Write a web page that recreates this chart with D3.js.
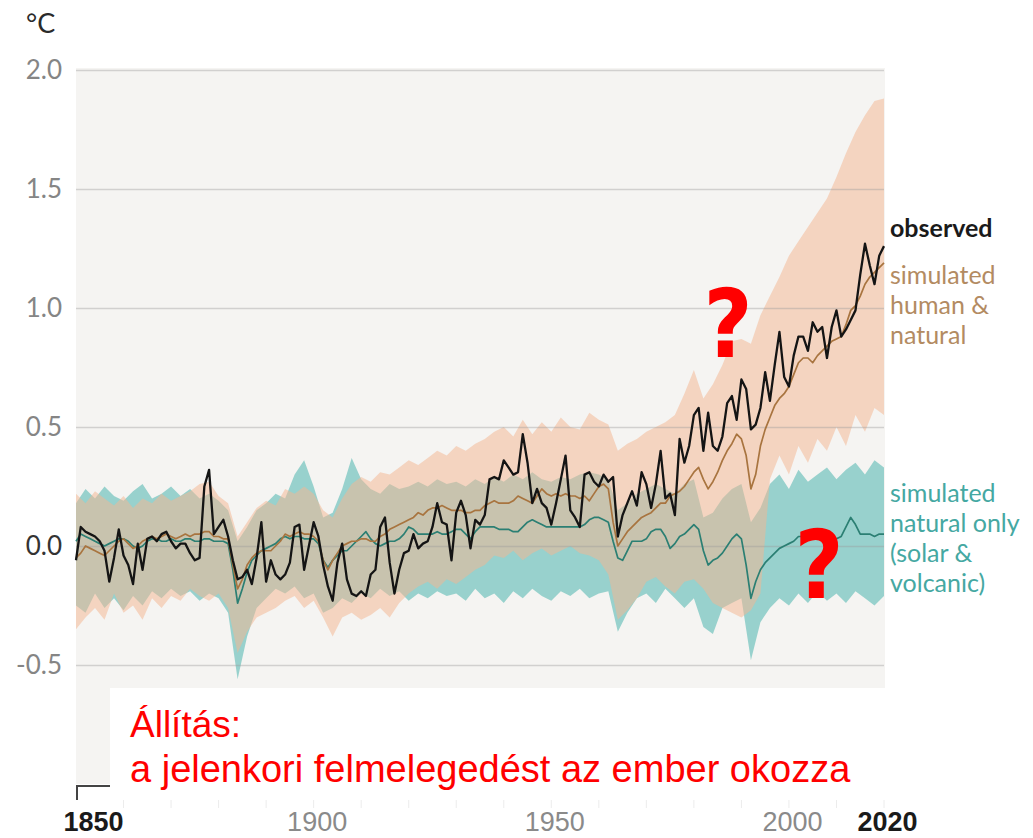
<!DOCTYPE html>
<html>
<head>
<meta charset="utf-8">
<script src="https://cdn.jsdelivr.net/npm/d3@7"></script>
<style>
body { margin: 0; background: #fff; }
svg { display: block; }
</style>
</head>
<body>
<svg></svg>
<script>
// yearly series 1850..2020
let years = d3.range(1850, 2021)

let observed = [
  -0.06, 0.08, 0.06, 0.05, 0.04, 0.02, -0.02, -0.15, -0.05, 0.07,
  -0.04, -0.08, -0.16, 0.01, -0.10, 0.03, 0.04, 0.02, 0.05, 0.06,
  0.02, -0.01, 0.01, 0.01, -0.03, -0.06, -0.05, 0.25, 0.32, 0.05,
  0.08, 0.11, 0.04, -0.06, -0.14, -0.13, -0.10, -0.16, -0.05, 0.10,
  -0.15, -0.06, -0.12, -0.14, -0.12, -0.07, 0.08, 0.09, -0.10, 0.00,
  0.10, 0.04, -0.08, -0.17, -0.23, -0.07, 0.01, -0.14, -0.20, -0.21,
  -0.19, -0.21, -0.12, -0.10, 0.08, 0.12, -0.07, -0.20, -0.10, -0.03,
  -0.02, 0.05, -0.01, 0.01, 0.02, 0.08, 0.18, 0.10, 0.09, -0.06,
  0.14, 0.19, 0.13, -0.01, 0.11, 0.09, 0.13, 0.28, 0.29, 0.28,
  0.36, 0.33, 0.30, 0.31, 0.47, 0.35, 0.18, 0.24, 0.18, 0.16,
  0.09, 0.18, 0.28, 0.38, 0.15, 0.12, 0.08, 0.30, 0.31, 0.27,
  0.25, 0.30, 0.27, 0.29, 0.04, 0.13, 0.18, 0.23, 0.17, 0.31,
  0.26, 0.16, 0.26, 0.40, 0.20, 0.22, 0.13, 0.45, 0.35, 0.42,
  0.55, 0.58, 0.40, 0.56, 0.42, 0.40, 0.46, 0.60, 0.63, 0.53,
  0.70, 0.66, 0.49, 0.51, 0.58, 0.73, 0.61, 0.76, 0.90, 0.71,
  0.67, 0.80, 0.88, 0.88, 0.82, 0.94, 0.90, 0.92, 0.79, 0.92,
  0.99, 0.88, 0.91, 0.95, 0.99, 1.14, 1.27, 1.18, 1.10, 1.22,
  1.26
]

let simHuman = [
  -0.05, -0.03, 0.00, -0.01, -0.02, -0.03, -0.04, -0.02, 0.00, 0.02,
  0.03, 0.01, -0.01, 0.00, 0.02, 0.03, 0.04, 0.03, 0.04, 0.05,
  0.04, 0.03, 0.04, 0.05, 0.04, 0.05, 0.05, 0.06, 0.06, 0.04,
  0.04, 0.03, 0.03, -0.08, -0.18, -0.14, -0.08, -0.05, -0.03, -0.02,
  -0.02, -0.02, 0.00, 0.02, 0.05, 0.04, 0.05, 0.06, 0.05, 0.05,
  0.04, 0.02, -0.06, -0.10, -0.06, -0.03, 0.00, 0.01, 0.02, 0.02,
  0.03, 0.03, 0.02, 0.02, 0.04, 0.05, 0.07, 0.08, 0.09, 0.10,
  0.11, 0.12, 0.14, 0.13, 0.15, 0.16, 0.16, 0.17, 0.16, 0.15,
  0.15, 0.15, 0.14, 0.14, 0.15, 0.15, 0.17, 0.18, 0.19, 0.18,
  0.18, 0.18, 0.19, 0.21, 0.20, 0.19, 0.18, 0.21, 0.24, 0.22,
  0.21, 0.22, 0.21, 0.22, 0.21, 0.21, 0.20, 0.21, 0.19, 0.22,
  0.25, 0.26, 0.24, 0.10, 0.00, 0.03, 0.06, 0.08, 0.10, 0.12,
  0.13, 0.14, 0.16, 0.18, 0.18, 0.21, 0.22, 0.23, 0.25, 0.28,
  0.31, 0.33, 0.28, 0.24, 0.27, 0.31, 0.36, 0.40, 0.43, 0.47,
  0.45, 0.38, 0.24, 0.30, 0.42, 0.49, 0.54, 0.59, 0.62, 0.64,
  0.67, 0.72, 0.77, 0.79, 0.79, 0.77, 0.80, 0.82, 0.84, 0.86,
  0.87, 0.88, 0.93, 0.99, 1.01, 1.05, 1.10, 1.13, 1.15, 1.17,
  1.19
]

let simNatural = [
  0.02, 0.05, 0.04, 0.03, 0.02, 0.01, 0.00, 0.01, 0.02, 0.03,
  0.03, 0.02, 0.00, -0.01, 0.00, 0.02, 0.03, 0.03, 0.02, 0.02,
  0.03, 0.02, 0.02, 0.03, 0.03, 0.02, 0.02, 0.03, 0.03, 0.02,
  0.02, 0.02, 0.01, -0.10, -0.24, -0.18, -0.11, -0.06, -0.04, -0.02,
  -0.01, 0.00, 0.01, 0.03, 0.04, 0.03, 0.04, 0.04, 0.03, 0.03,
  0.03, 0.01, -0.06, -0.09, -0.06, -0.04, -0.02, -0.02, 0.00, 0.02,
  0.04, 0.06, 0.03, 0.01, 0.00, 0.01, 0.02, 0.02, 0.03, 0.05,
  0.08, 0.07, 0.05, 0.05, 0.05, 0.05, 0.06, 0.05, 0.05, 0.06,
  0.07, 0.07, 0.05, 0.03, 0.06, 0.08, 0.08, 0.08, 0.08, 0.07,
  0.07, 0.07, 0.06, 0.06, 0.08, 0.10, 0.11, 0.10, 0.09, 0.08,
  0.08, 0.08, 0.08, 0.08, 0.08, 0.08, 0.08, 0.09, 0.11, 0.12,
  0.12, 0.11, 0.10, 0.02, -0.05, -0.06, -0.02, 0.02, 0.02, 0.02,
  0.03, 0.06, 0.07, 0.07, 0.04, -0.01, 0.01, 0.04, 0.05, 0.07,
  0.09, 0.07, -0.02, -0.08, -0.06, -0.05, -0.03, 0.00, 0.03, 0.05,
  0.03, -0.08, -0.22, -0.15, -0.10, -0.07, -0.05, -0.03, -0.01, 0.00,
  0.01, 0.02, 0.04, 0.04, 0.04, 0.03, 0.04, 0.03, 0.03, 0.03,
  0.03, 0.04, 0.08, 0.12, 0.09, 0.05, 0.05, 0.05, 0.04, 0.05,
  0.05
]

// model ranges, every second year 1850..2020
let bandYears = d3.range(1850, 2021, 2)

let humanHigh = [
  0.22, 0.18, 0.23, 0.20, 0.17, 0.21, 0.16, 0.20, 0.18, 0.22,
  0.19, 0.21, 0.23, 0.26, 0.27, 0.21, 0.18, 0.04, 0.10, 0.16,
  0.19, 0.17, 0.24, 0.22, 0.25, 0.22, 0.15, 0.12, 0.20, 0.26,
  0.29, 0.27, 0.31, 0.30, 0.33, 0.36, 0.34, 0.37, 0.40, 0.38,
  0.42, 0.40, 0.43, 0.45, 0.48, 0.50, 0.46, 0.53, 0.47, 0.52,
  0.48, 0.54, 0.50, 0.49, 0.56, 0.53, 0.51, 0.40, 0.43, 0.45,
  0.48, 0.50, 0.52, 0.55, 0.64, 0.74, 0.62, 0.68, 0.76, 0.86,
  0.87, 0.85, 0.97, 1.05, 1.13, 1.22, 1.28, 1.34, 1.40, 1.46,
  1.55, 1.65, 1.74, 1.81, 1.87, 1.88
]
let humanLow = [
  -0.35, -0.30, -0.26, -0.31, -0.20, -0.28, -0.25, -0.31, -0.22, -0.26,
  -0.21, -0.23, -0.18, -0.21, -0.23, -0.20, -0.26, -0.45, -0.36, -0.30,
  -0.28, -0.26, -0.23, -0.21, -0.26, -0.23, -0.30, -0.38, -0.30, -0.28,
  -0.31, -0.29, -0.26, -0.30, -0.24, -0.20, -0.17, -0.15, -0.18, -0.14,
  -0.16, -0.13, -0.10, -0.08, -0.04, -0.05, -0.02, -0.06, -0.03, -0.01,
  -0.04, -0.02, 0.00, -0.03, -0.04, -0.06, -0.12, -0.31, -0.27, -0.22,
  -0.15, -0.13, -0.17, -0.20, -0.15, -0.14, -0.18, -0.24, -0.26, -0.28,
  -0.30, -0.27, -0.20, 0.28, 0.38, 0.30, 0.42, 0.35, 0.45, 0.40,
  0.50, 0.42, 0.55, 0.48, 0.58, 0.55
]
let naturalHigh = [
  0.18, 0.24, 0.20, 0.25, 0.21, 0.19, 0.23, 0.26, 0.20, 0.22,
  0.25, 0.21, 0.24, 0.20, 0.22, 0.19, 0.15, 0.02, 0.08, 0.15,
  0.18, 0.22, 0.20, 0.30, 0.36, 0.25, 0.12, 0.14, 0.24, 0.37,
  0.28, 0.24, 0.22, 0.26, 0.24, 0.25, 0.27, 0.25, 0.28, 0.26,
  0.27, 0.25, 0.28, 0.26, 0.29, 0.27, 0.30, 0.28, 0.31, 0.28,
  0.27, 0.29, 0.28, 0.30, 0.31, 0.30, 0.28, 0.15, 0.18, 0.22,
  0.24, 0.26, 0.24, 0.22, 0.26, 0.28, 0.12, 0.14, 0.20, 0.24,
  0.26, 0.10, 0.16, 0.26, 0.30, 0.24, 0.32, 0.27, 0.30, 0.33,
  0.28, 0.32, 0.35, 0.30, 0.36, 0.33
]
let naturalLow = [
  -0.25, -0.28, -0.20, -0.26, -0.22, -0.27, -0.21, -0.25, -0.19, -0.22,
  -0.18, -0.21, -0.19, -0.23, -0.20, -0.22, -0.28, -0.56, -0.38, -0.26,
  -0.22, -0.18, -0.20, -0.17, -0.22, -0.20, -0.28, -0.26, -0.22, -0.24,
  -0.20, -0.22, -0.18, -0.21, -0.19, -0.23, -0.20, -0.22, -0.19, -0.21,
  -0.20, -0.23, -0.18, -0.22, -0.20, -0.24, -0.19, -0.22, -0.18, -0.21,
  -0.23, -0.19, -0.21, -0.18, -0.22, -0.20, -0.19, -0.36, -0.28, -0.22,
  -0.20, -0.24, -0.18, -0.22, -0.26, -0.22, -0.34, -0.37, -0.26, -0.24,
  -0.22, -0.48, -0.32, -0.26, -0.22, -0.25, -0.20, -0.24, -0.19, -0.23,
  -0.20, -0.24, -0.19, -0.22, -0.25, -0.21
]

let yTicks = [-0.5, 0, 0.5, 1, 1.5, 2]
let yTickLabels = ['-0.5', '0.0', '0.5', '1.0', '1.5', '2.0']
let xTicks = [1850, 1900, 1950, 2000, 2020]
let xTickLabels = ['1850', '1900', '1950', '2000', '2020']

let w = 1033
let h = 838
let x
let y

let svg = d3.select('svg')

let drawCanvas = () => {
    svg.attr('width', w).attr('height', h)
    svg.append('rect').attr('width', w).attr('height', h).attr('fill', '#fff')
}

let makeScales = () => {
    x = d3.scaleLinear().domain([1850, 2020]).range([76, 884])
    y = d3.scaleLinear().domain([-1, 2]).range([784, 70])

    svg.append('rect')
       .attr('x', x(1850))
       .attr('y', y(2) - 2)
       .attr('width', x(2020) - x(1850) + 1)
       .attr('height', y(-1) - y(2) + 2)
       .attr('fill', '#f5f4f2')
}

let makeBands = () => {
    let natArea = d3.area()
        .x((d, i) => x(bandYears[i]))
        .y0((d, i) => y(naturalLow[i]))
        .y1((d, i) => y(naturalHigh[i]))
    let humArea = d3.area()
        .x((d, i) => x(bandYears[i]))
        .y0((d, i) => y(humanLow[i]))
        .y1((d, i) => y(humanHigh[i]))

    svg.append('path').datum(bandYears)
       .attr('d', natArea)
       .attr('fill', '#55b8b1')
       .attr('fill-opacity', 0.58)
    svg.append('path').datum(bandYears)
       .attr('d', humArea)
       .attr('fill', '#f4b692')
       .attr('fill-opacity', 0.52)
}

let makeAxis = () => {
    let yAxis = d3.axisLeft(y)
        .tickValues(yTicks)
        .tickSize(-(x(2020) - x(1850)))
        .tickPadding(14)
        .tickFormat((d, i) => yTickLabels[i])
    let gy = svg.append('g')
        .attr('transform', 'translate(' + x(1850) + ',0)')
        .call(yAxis)
    gy.select('.domain').remove()
    gy.selectAll('line')
      .attr('stroke', '#9a9a9a')
      .attr('stroke-opacity', 0.4)
      .attr('stroke-width', 1.5)
    gy.selectAll('text')
      .attr('font-family', 'Lato, "Open Sans", sans-serif')
      .attr('font-size', '26px')
      .attr('fill', (d) => d === 0 ? '#333' : '#858585')

    // bottom axis line with faint ticks
    svg.append('line')
       .attr('x1', x(1850)).attr('x2', x(2020))
       .attr('y1', 786).attr('y2', 786)
       .attr('stroke', '#444').attr('stroke-width', 2)
    svg.append('line')
       .attr('x1', x(1850) + 1).attr('x2', x(1850) + 1)
       .attr('y1', 786).attr('y2', 800)
       .attr('stroke', '#444').attr('stroke-width', 2)
    svg.selectAll('.minor')
       .data(d3.range(1860, 2021, 10))
       .enter().append('line')
       .attr('x1', (d) => x(d)).attr('x2', (d) => x(d))
       .attr('y1', 786).attr('y2', 808)
       .attr('stroke', '#ececec').attr('stroke-width', 1)

    let xAxis = d3.axisBottom(x)
        .tickValues(xTicks)
        .tickSize(0)
        .tickPadding(26)
        .tickFormat((d, i) => xTickLabels[i])
    let gx = svg.append('g')
        .attr('transform', 'translate(0,786)')
        .call(xAxis)
    gx.select('.domain').remove()
    gx.selectAll('text')
      .attr('font-family', '"Liberation Sans", Arial, sans-serif')
      .attr('font-size', '27px')
      .attr('dx', (d) => d === 1850 ? 17 : 3)
      .attr('font-weight', (d) => (d === 1850 || d === 2020) ? 'bold' : 'normal')
      .attr('fill', (d) => (d === 1850 || d === 2020) ? '#1a1a1a' : '#8a8a8a')

    svg.append('text')
       .attr('x', 26).attr('y', 33)
       .attr('font-family', 'Lato, "Open Sans", sans-serif')
       .attr('font-size', '27px')
       .attr('fill', '#2a2a2a')
       .text('°C')
}

let makeLines = () => {
    let line = (vals) => d3.line()
        .x((d, i) => x(years[i]))
        .y((d, i) => y(vals[i]))(years)

    svg.append('path').attr('d', line(simNatural))
       .attr('fill', 'none').attr('stroke', '#2b7f73')
       .attr('stroke-width', 1.7).attr('stroke-linejoin', 'round')
    svg.append('path').attr('d', line(simHuman))
       .attr('fill', 'none').attr('stroke', '#a8743f')
       .attr('stroke-width', 1.7).attr('stroke-linejoin', 'round')
    svg.append('path').attr('d', line(observed))
       .attr('fill', 'none').attr('stroke', '#141414')
       .attr('stroke-width', 2.3).attr('stroke-linejoin', 'round')
}

let makeLabels = () => {
    let font = 'Lato, "Open Sans", sans-serif'
    svg.append('text')
       .attr('x', 890).attr('y', 237)
       .attr('font-family', font).attr('font-size', '25px')
       .attr('font-weight', 'bold').attr('fill', '#1a1a1a')
       .text('observed')

    let brown = ['simulated', 'human &', 'natural']
    svg.selectAll('.hum')
       .data(brown).enter().append('text')
       .attr('x', 890).attr('y', (d, i) => 284 + i * 30)
       .attr('font-family', font).attr('font-size', '25px')
       .attr('fill', '#b38b62')
       .text((d) => d)

    let teal = ['simulated', 'natural only', '(solar &', 'volcanic)']
    svg.selectAll('.nat')
       .data(teal).enter().append('text')
       .attr('x', 890).attr('y', (d, i) => 502 + i * 30)
       .attr('font-family', font).attr('font-size', '25px')
       .attr('fill', '#45a8a2')
       .text((d) => d)

    // question marks
    let qs = [[728, 357], [819, 598]]
    svg.selectAll('.q')
       .data(qs).enter().append('text')
       .attr('x', (d) => d[0]).attr('y', (d) => d[1])
       .attr('text-anchor', 'middle')
       .attr('font-family', '"Liberation Sans Narrow", "DejaVu Sans Condensed", sans-serif')
       .attr('font-size', '94px').attr('font-weight', 'bold')
       .attr('fill', '#ff0000')
       .text('?')

    // claim box
    svg.append('rect')
       .attr('x', 110).attr('y', 688)
       .attr('width', 790).attr('height', 112)
       .attr('fill', '#fff')
    svg.append('text')
       .attr('x', 130).attr('y', 737)
       .attr('font-family', '"Liberation Sans", Arial, sans-serif')
       .attr('font-size', '37px').attr('fill', '#ff0000')
       .text('Állítás:')
    svg.append('text')
       .attr('x', 130).attr('y', 782)
       .attr('font-family', '"Liberation Sans", Arial, sans-serif')
       .attr('font-size', '38px').attr('fill', '#ff0000')
       .text('a jelenkori felmelegedést az ember okozza')
}

drawCanvas()
makeScales()
makeBands()
makeAxis()
makeLines()
makeLabels()
</script>
</body>
</html>
